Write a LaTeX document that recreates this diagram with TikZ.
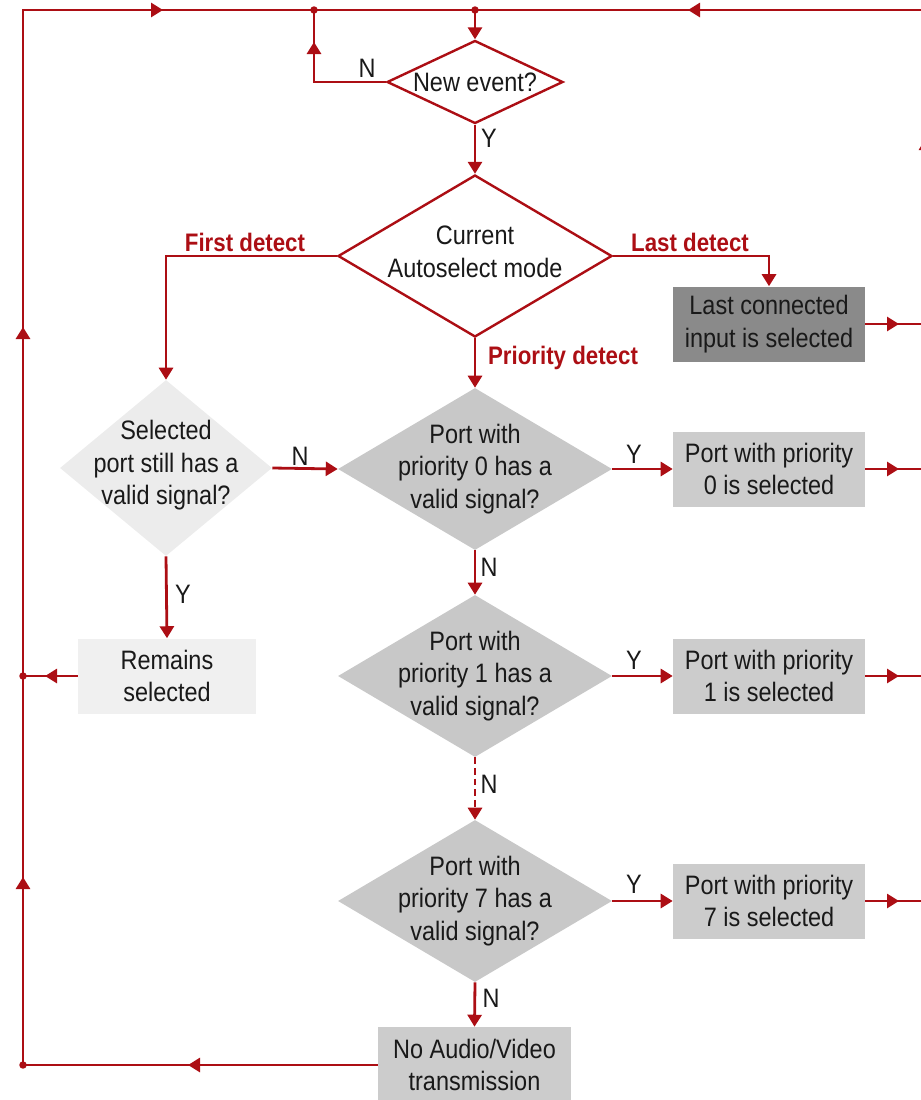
\documentclass[tikz,border=0pt]{standalone}
\usepackage{fontspec}
\setmainfont{Liberation Sans}[FakeStretch=0.88]
\usetikzlibrary{shapes.geometric,arrows.meta}
\definecolor{redc}{RGB}{172,14,20}
\definecolor{txtc}{RGB}{25,25,25}
\definecolor{dgray}{RGB}{138,138,138}
\definecolor{mgray}{RGB}{204,204,204}
\definecolor{dfill}{RGB}{200,200,200}
\definecolor{lgray}{RGB}{236,236,236}
\definecolor{lbox}{RGB}{240,240,240}
\begin{document}
\begin{tikzpicture}[x=0.75pt,y=-0.75pt,
 line/.style={draw=redc, line width=2.1pt},
 arr/.style={line, -{Triangle[length=9pt,width=10.5pt]}},
 txt/.style={font=\fontsize{20}{24.5}\selectfont, text=txtc, align=center},
 yn/.style={font=\fontsize{20}{24}\selectfont, text=txtc, inner sep=0pt},
 redlbl/.style={font=\fontsize{19}{23}\selectfont\bfseries, text=redc, inner sep=0pt},
 dia/.style 2 args={diamond, minimum width=#1, minimum height=#2, inner sep=0pt},
 box/.style 2 args={rectangle, minimum width=#1, minimum height=#2, inner sep=0pt, txt},
 reddot/.style={circle, fill=redc, inner sep=0pt, minimum size=5.6pt}
]
\useasboundingbox (0,0) rectangle (921,1100);
\clip (0,0) rectangle (921,1100);

% nodes
\node[dia={132pt}{62.25pt}, fill=white, draw=redc, line width=1.8pt,
  label={[txt]center:New event?}] (ne) at (475,82) {};
\node[dia={205.5pt}{121.5pt}, fill=white, draw=redc, line width=1.8pt,
  label={[txt,yshift=3pt]center:Current\\Autoselect mode}] (cur) at (475,256) {};
\node[box={144pt}{56.25pt}, fill=dgray] (lc) at (769,324) {Last connected\\input is selected};
\node[dia={159pt}{132pt}, fill=lgray,
  label={[txt,yshift=2pt]center:Selected\\port still has a\\valid signal?}] (sel) at (166,468) {};
\node[dia={205.5pt}{121.5pt}, fill=dfill,
  label={[txt]center:Port with\\priority 0 has a\\valid signal?}] (p0) at (475,469) {};
\node[box={144pt}{56.25pt}, fill=mgray] (b0) at (769,469) {Port with priority\\0 is selected};
\node[box={133.5pt}{56.25pt}, fill=lbox] (rem) at (167,676) {Remains\\selected};
\node[dia={205.5pt}{121.5pt}, fill=dfill,
  label={[txt]center:Port with\\priority 1 has a\\valid signal?}] (p1) at (475,676) {};
\node[box={144pt}{56.25pt}, fill=mgray] (b1) at (769,676) {Port with priority\\1 is selected};
\node[dia={205.5pt}{121.5pt}, fill=dfill,
  label={[txt]center:Port with\\priority 7 has a\\valid signal?}] (p7) at (475,901) {};
\node[box={144pt}{56.25pt}, fill=mgray] (b7) at (769,901) {Port with priority\\7 is selected};
\node[box={144.75pt}{57pt}, fill=mgray] (na) at (474.5,1065) {No Audio/Video\\transmission};

% coordinates
\coordinate (ctl) at (23,10);
\coordinate (d1) at (314,10);
\coordinate (d2) at (475,10);
\coordinate (ctr) at (926,10);
\coordinate (crb) at (926,901);
\coordinate (cr7) at (926,901);
\coordinate (cr1) at (926,676);
\coordinate (cr0) at (926,469);
\coordinate (crl) at (926,324);
\coordinate (drem) at (23,676);
\coordinate (dbot) at (23,1065);
\coordinate (loopc) at (314,82);
\coordinate (ta1) at (163,10);
\coordinate (ta2) at (688,10);
\coordinate (la1) at (23,327);
\coordinate (la2) at (23,877);
\coordinate (rema) at (45,676);
\coordinate (naa) at (188,1065);
\coordinate (loopa) at (314,42);
\coordinate (ra) at (926,138);
\coordinate (lca) at (899,324);
\coordinate (b0a) at (899,469);
\coordinate (b1a) at (899,676);
\coordinate (b7a) at (899,901);

% outer loop lines
\draw[line] (dbot) -- (ctl) -- (ctr) -- (crb);
\draw[arr] (ctl) -- (ta1);
\draw[arr] (ctr) -- (ta2);
\draw[arr] (drem) -- (la1);
\draw[arr] (dbot) -- (la2);
\draw[arr] (crb) -- (ra);

% new event
\draw[arr] (d2) -- (ne.north);
\draw[line] (ne.west) -- (loopc) -- (d1);
\draw[arr] (loopc) -- (loopa);
\node[yn] (nN) at (367,68) {N};
\draw[arr] (ne.south) -- (cur.north);
\node[yn] (nY) at (489,138) {Y};

% autoselect branches
\draw[arr] (cur.west) -| (sel.north);
\node[redlbl] (fd) at (245,242) {First detect};
\draw[arr] (cur.east) -| (lc.north);
\node[redlbl] (ld) at (690,242) {Last detect};
\draw[arr] (cur.south) -- (p0.north);
\node[redlbl] (pd) at (563,358) {Priority detect};

% first detect
\draw[arr] (sel.east) -- (p0.west);
\node[yn] (sN) at (300,456) {N};
\draw[arr] (sel.south) -- (rem.north);
\node[yn] (sY) at (183,594) {Y};
\draw[line] (rem.west) -- (drem);
\draw[arr] (rem.west) -- (rema);

% priority chain
\draw[arr] (p0.east) -- (b0.west);
\node[yn] (p0Y) at (634,454) {Y};
\draw[arr] (p0.south) -- (p1.north);
\node[yn] (p0N) at (489,567) {N};
\draw[arr] (p1.east) -- (b1.west);
\node[yn] (p1Y) at (634,660) {Y};
\draw[arr, dash pattern=on 5pt off 3pt] (p1.south) -- (p7.north);
\node[yn] (p1N) at (489,784) {N};
\draw[arr] (p7.east) -- (b7.west);
\node[yn] (p7Y) at (634,884) {Y};
\draw[arr] (p7.south) -- (na.north);
\node[yn] (p7N) at (491,998) {N};
\draw[line] (na.west) -- (dbot);
\draw[arr] (na.west) -- (naa);

% outputs to the right
\draw[line] (lc.east) -- (crl);
\draw[arr] (lc.east) -- (lca);
\draw[line] (b0.east) -- (cr0);
\draw[arr] (b0.east) -- (b0a);
\draw[line] (b1.east) -- (cr1);
\draw[arr] (b1.east) -- (b1a);
\draw[line] (b7.east) -- (cr7);
\draw[arr] (b7.east) -- (b7a);

% junction dots
\node[reddot] at (d1) {};
\node[reddot] at (d2) {};
\node[reddot] at (drem) {};
\node[reddot] at (dbot) {};
\end{tikzpicture}
\end{document}
